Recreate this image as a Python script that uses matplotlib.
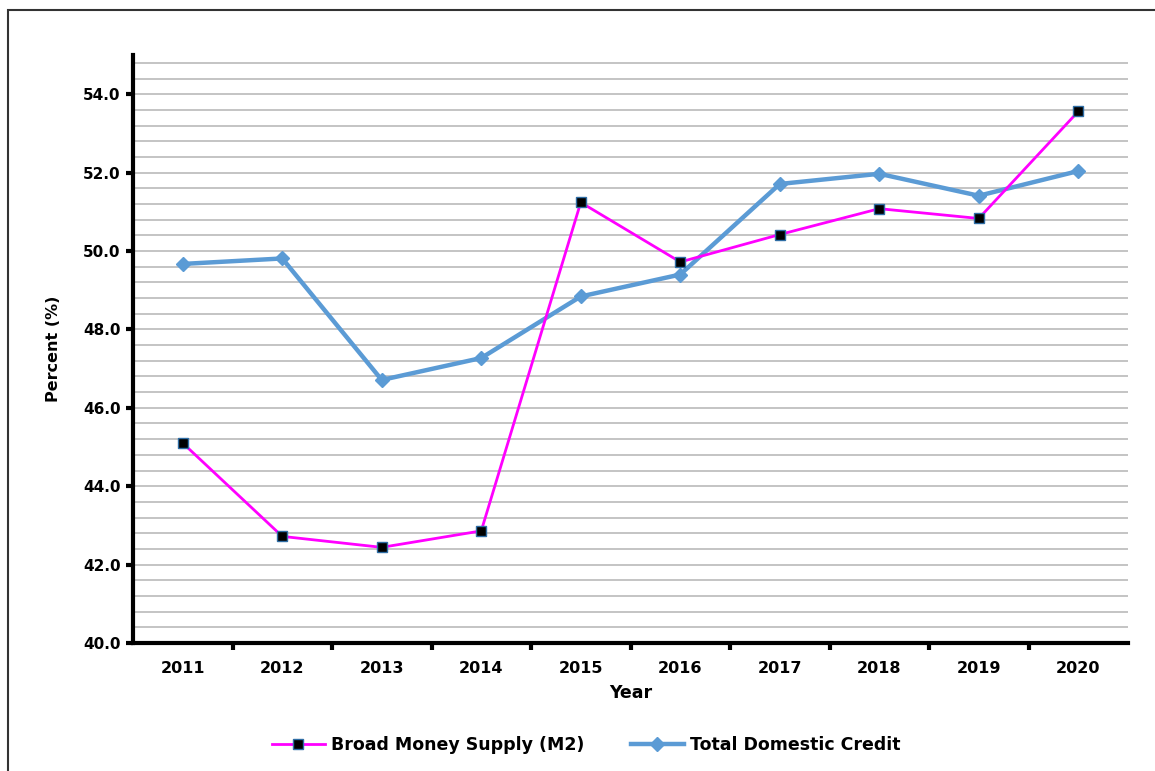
import matplotlib
matplotlib.use("Agg")
import matplotlib.pyplot as plt
from matplotlib.patches import Rectangle
import numpy as np

plt.rcParams['font.family'] = ['DejaVu Sans']

years = ["2011", "2012", "2013", "2014", "2015", "2016", "2017", "2018", "2019", "2020"]
broad_money_m2 = [45.10, 42.72, 42.44, 42.86, 51.24, 49.72, 50.42, 51.08, 50.83, 53.56]
total_domestic_credit = [49.67, 49.81, 46.71, 47.27, 48.84, 49.40, 51.71, 51.97, 51.41, 52.04]

W, H = 1155, 771
fig = plt.figure(figsize=(W / 100, H / 100), dpi=100)
ax = fig.add_axes([133 / W, 1 - 643 / H, (1128 - 133) / W, (643 - 55) / H])

# outer border
fig.patches.append(Rectangle((8 / W, -0.05), 1.2, 1 - 10 / H + 0.05, transform=fig.transFigure,
                             fill=False, edgecolor='#333333', linewidth=1.5))

x = np.arange(len(years))
ax.plot(x, total_domestic_credit, color='#5B9BD5', linewidth=3.2, marker='D', markersize=7,
        markerfacecolor='#5B9BD5', markeredgecolor='#5B9BD5', label='Total Domestic Credit', zorder=3)
ax.plot(x, broad_money_m2, color='#FF00FF', linewidth=2.0, marker='s', markersize=7,
        markerfacecolor='black', markeredgecolor='#2E6DA4', markeredgewidth=1.0,
        label='Broad Money Supply (M2)', zorder=4)

ax.set_xlim(-0.5, len(years) - 0.5)
ax.set_ylim(40, 55)

# gridlines every 0.4
for g in np.arange(40.4, 55.0, 0.4):
    ax.axhline(g, color='#BFBFBF', linewidth=1.3, zorder=1)

ax.set_yticks(np.arange(40, 55, 2))
ax.set_yticklabels([f"{v:.1f}" for v in np.arange(40, 55, 2)], fontsize=11, fontweight='bold')
ax.set_xticks(x)
ax.set_xticklabels(years, fontsize=11.5, fontweight='bold')
ax.set_xticks(np.arange(0.5, len(years) - 0.5, 1), minor=True)
ax.tick_params(axis='x', which='major', length=0, pad=13)
ax.tick_params(axis='x', which='minor', length=5, width=3, direction='out')
ax.tick_params(axis='y', which='major', length=5, width=3, direction='out', pad=4)

for s in ['top', 'right']:
    ax.spines[s].set_visible(False)
for s in ['left', 'bottom']:
    ax.spines[s].set_linewidth(3)
    ax.spines[s].set_zorder(5)

ax.set_xlabel('Year', fontsize=12.5, fontweight='bold', labelpad=6)
ax.set_ylabel('Percent (%)', fontsize=11.5, fontweight='bold', labelpad=16)

handles, labels = ax.get_legend_handles_labels()
leg = fig.legend(handles[::-1], labels[::-1], loc='center', bbox_to_anchor=(586 / W, 1 - 745 / H),
                 ncol=2, frameon=False, prop={'size': 12.5, 'weight': 'bold'},
                 handlelength=3.05, columnspacing=2.7, handletextpad=0.35)

fig.savefig('out.png', dpi=100, facecolor='white')
